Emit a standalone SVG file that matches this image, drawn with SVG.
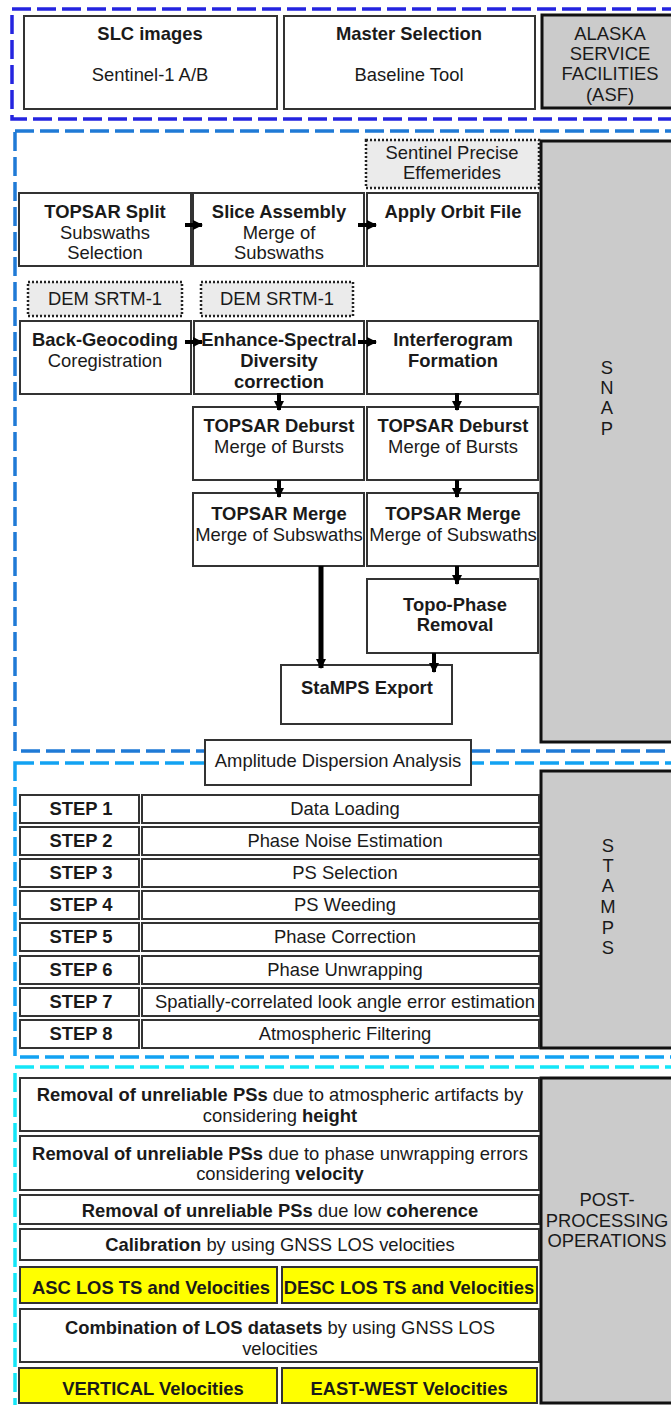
<svg xmlns="http://www.w3.org/2000/svg" width="671" height="1405" viewBox="0 0 671 1405">
<defs>
<style>
text{font-family:"Liberation Sans",Arial,sans-serif;font-size:18.4px;fill:#1a1a1a;text-anchor:middle}
.b{font-weight:bold}
.box{fill:#fff;stroke:#333;stroke-width:2}
.yel{fill:#ffff00;stroke:#333;stroke-width:2}
.gray{fill:#cbcbcb;stroke:#111;stroke-width:3}
.dot{fill:#ebebeb;stroke:#222;stroke-width:2.5;stroke-dasharray:2 2}
.dsh{fill:none;stroke-width:3.5;stroke-dasharray:19 6}
.arr{stroke:#000;stroke-width:4;fill:none;marker-end:url(#ah)}
</style>
<marker id="ah" markerUnits="userSpaceOnUse" markerWidth="10" markerHeight="10" refX="9" refY="5" orient="auto">
<path d="M0,0 L10,5 L0,10 Z" fill="#000"/>
</marker>
</defs>
<rect width="671" height="1405" fill="#fff"/>

<g id="containers">
<rect class="dsh" x="12" y="9" width="690" height="110" stroke="#2424e0"/>
<rect class="dsh" x="15" y="131" width="690" height="620" stroke="#1f7ad6"/>
<rect class="dsh" x="15" y="763" width="690" height="294" stroke="#12a2f2"/>
<rect class="dsh" x="15" y="1067" width="690" height="360" stroke="#14e6f8"/>
</g>

<g id="slc"><rect class="box" x="24" y="16" width="253" height="93"/><text class="b" x="150" y="40">SLC images</text><text x="150" y="81">Sentinel-1 A/B</text></g>
<g id="master"><rect class="box" x="284" y="16" width="251" height="93"/><text class="b" x="409" y="40">Master Selection</text><text x="409" y="81">Baseline Tool</text></g>
<g id="asf"><rect class="gray" x="542" y="15" width="140" height="93"/><text x="610" y="40" fill="#222">ALASKA</text><text x="610" y="60">SERVICE</text><text x="610" y="80">FACILITIES</text><text x="610" y="101">(ASF)</text></g>

<g id="snap"><rect class="gray" x="541" y="141" width="140" height="601"/><text x="607" y="374">S</text><text x="607" y="394">N</text><text x="607" y="414">A</text><text x="607" y="435">P</text></g>
<g id="effemerides"><rect class="dot" x="366" y="140" width="173" height="48"/><text x="452" y="159" fill="#333">Sentinel Precise</text><text x="452" y="179" fill="#333">Effemerides</text></g>
<g id="topsar-split"><rect class="box" x="19" y="193" width="172" height="73"/><text class="b" x="105" y="218">TOPSAR Split</text><text x="105" y="239">Subswaths</text><text x="105" y="259">Selection</text></g>
<g id="slice-assembly"><rect class="box" x="193" y="193" width="171" height="73"/><text class="b" x="279" y="218">Slice Assembly</text><text x="279" y="239">Merge of</text><text x="279" y="259">Subswaths</text></g>
<g id="apply-orbit"><rect class="box" x="367" y="193" width="171" height="73"/><text class="b" x="453" y="218">Apply Orbit File</text></g>
<g id="dem1"><rect class="dot" x="28" y="282" width="154" height="34"/><text x="105" y="305" fill="#333">DEM SRTM-1</text></g>
<g id="dem2"><rect class="dot" x="201" y="282" width="152" height="34"/><text x="277" y="305" fill="#333">DEM SRTM-1</text></g>
<g id="back-geocoding"><rect class="box" x="20" y="321" width="171" height="73"/><text class="b" x="105" y="346">Back-Geocoding</text><text x="105" y="367">Coregistration</text></g>
<g id="esd"><rect class="box" x="194" y="321" width="170" height="73"/><text class="b" x="279" y="346">Enhance-Spectral</text><text class="b" x="279" y="367">Diversity</text><text class="b" x="279" y="388">correction</text></g>
<g id="interferogram"><rect class="box" x="367" y="321" width="171" height="73"/><text class="b" x="453" y="346">Interferogram</text><text class="b" x="453" y="367">Formation</text></g>
<g id="deburst-l"><rect class="box" x="193" y="407" width="171" height="73"/><text class="b" x="279" y="432">TOPSAR Deburst</text><text x="279" y="453">Merge of Bursts</text></g>
<g id="deburst-r"><rect class="box" x="367" y="407" width="171" height="73"/><text class="b" x="453" y="432">TOPSAR Deburst</text><text x="453" y="453">Merge of Bursts</text></g>
<g id="merge-l"><rect class="box" x="193" y="493" width="171" height="73"/><text class="b" x="279" y="520">TOPSAR Merge</text><text x="279" y="541">Merge of Subswaths</text></g>
<g id="merge-r"><rect class="box" x="367" y="493" width="171" height="73"/><text class="b" x="453" y="520">TOPSAR Merge</text><text x="453" y="541">Merge of Subswaths</text></g>
<g id="topo-phase"><rect class="box" x="367" y="579" width="171" height="74"/><text class="b" x="455" y="611">Topo-Phase</text><text class="b" x="455" y="631">Removal</text></g>
<g id="stamps-export"><rect class="box" x="281" y="665" width="171" height="59"/><text class="b" x="367" y="694">StaMPS Export</text></g>

<g id="connectors">
<line class="arr" x1="185" y1="225" x2="202" y2="225"/>
<line class="arr" x1="358" y1="225" x2="376" y2="225"/>
<line class="arr" x1="185" y1="342" x2="202" y2="342"/>
<line class="arr" x1="358" y1="342" x2="376" y2="342"/>
<line class="arr" x1="279" y1="393" x2="279" y2="410"/>
<line class="arr" x1="457" y1="393" x2="457" y2="410"/>
<line class="arr" x1="279" y1="480" x2="279" y2="497"/>
<line class="arr" x1="457" y1="480" x2="457" y2="497"/>
<line class="arr" x1="457" y1="566" x2="457" y2="584"/>
<line class="arr" x1="321" y1="566" x2="321" y2="668" style="stroke-width:5"/>
<line class="arr" x1="434" y1="653" x2="434" y2="672"/>
</g>

<g id="amplitude"><rect class="box" x="205" y="740" width="266" height="45"/><text x="338" y="767">Amplitude Dispersion Analysis</text></g>
<g id="stamps"><rect class="gray" x="541" y="771" width="140" height="277"/><text x="608" y="852">S</text><text x="608" y="872">T</text><text x="608" y="892">A</text><text x="608" y="913">M</text><text x="608" y="934">P</text><text x="608" y="954">S</text></g>

<g id="step1"><rect class="box" x="20" y="795" width="119" height="28"/><rect class="box" x="142" y="795" width="397" height="28"/><text class="b" x="81" y="815">STEP 1</text><text x="345" y="815">Data Loading</text></g>
<g id="step2"><rect class="box" x="20" y="827" width="119" height="28"/><rect class="box" x="142" y="827" width="397" height="28"/><text class="b" x="81" y="847">STEP 2</text><text x="345" y="847">Phase Noise Estimation</text></g>
<g id="step3"><rect class="box" x="20" y="859" width="119" height="28"/><rect class="box" x="142" y="859" width="397" height="28"/><text class="b" x="81" y="879">STEP 3</text><text x="345" y="879">PS Selection</text></g>
<g id="step4"><rect class="box" x="20" y="891" width="119" height="28"/><rect class="box" x="142" y="891" width="397" height="28"/><text class="b" x="81" y="911">STEP 4</text><text x="345" y="911">PS Weeding</text></g>
<g id="step5"><rect class="box" x="20" y="923" width="119" height="28"/><rect class="box" x="142" y="923" width="397" height="28"/><text class="b" x="81" y="943">STEP 5</text><text x="345" y="943">Phase Correction</text></g>
<g id="step6"><rect class="box" x="20" y="956" width="119" height="28"/><rect class="box" x="142" y="956" width="397" height="28"/><text class="b" x="81" y="976">STEP 6</text><text x="345" y="976">Phase Unwrapping</text></g>
<g id="step7"><rect class="box" x="20" y="988" width="119" height="28"/><rect class="box" x="142" y="988" width="397" height="28"/><text class="b" x="81" y="1008">STEP 7</text><text x="345" y="1008" textLength="380" lengthAdjust="spacing">Spatially-correlated look angle error estimation</text></g>
<g id="step8"><rect class="box" x="20" y="1020" width="119" height="28"/><rect class="box" x="142" y="1020" width="397" height="28"/><text class="b" x="81" y="1040">STEP 8</text><text x="345" y="1040">Atmospheric Filtering</text></g>

<g id="post"><rect class="gray" x="541" y="1078" width="140" height="325"/><text x="607" y="1206">POST-</text><text x="607" y="1227">PROCESSING</text><text x="607" y="1247">OPERATIONS</text></g>
<g id="removal-height"><rect class="box" x="20" y="1078" width="519" height="53"/><text x="280" y="1101"><tspan class="b">Removal of unreliable PSs</tspan> due to atmospheric artifacts by</text><text x="280" y="1122">considering <tspan class="b">height</tspan></text></g>
<g id="removal-velocity"><rect class="box" x="20" y="1136" width="519" height="54"/><text x="280" y="1160"><tspan class="b">Removal of unreliable PSs</tspan> due to phase unwrapping errors</text><text x="280" y="1180">considering <tspan class="b">velocity</tspan></text></g>
<g id="removal-coherence"><rect class="box" x="20" y="1195" width="519" height="29"/><text x="280" y="1217"><tspan class="b">Removal of unreliable PSs</tspan> due low <tspan class="b">coherence</tspan></text></g>
<g id="calibration"><rect class="box" x="20" y="1229" width="519" height="31"/><text x="280" y="1251"><tspan class="b">Calibration</tspan> by using GNSS LOS velocities</text></g>
<g id="asc"><rect class="yel" x="20" y="1267" width="257" height="36"/><text class="b" x="151" y="1294">ASC LOS TS and Velocities</text></g>
<g id="desc"><rect class="yel" x="282" y="1267" width="255" height="36"/><text class="b" x="409" y="1294">DESC LOS TS and Velocities</text></g>
<g id="combination"><rect class="box" x="20" y="1309" width="519" height="53"/><text x="280" y="1334"><tspan class="b">Combination of LOS datasets</tspan> by using GNSS LOS</text><text x="280" y="1355">velocities</text></g>
<g id="vertical"><rect class="yel" x="19" y="1368" width="258" height="35"/><text class="b" x="153" y="1395">VERTICAL Velocities</text></g>
<g id="east-west"><rect class="yel" x="282" y="1368" width="255" height="35"/><text class="b" x="409" y="1395">EAST-WEST Velocities</text></g>
</svg>
